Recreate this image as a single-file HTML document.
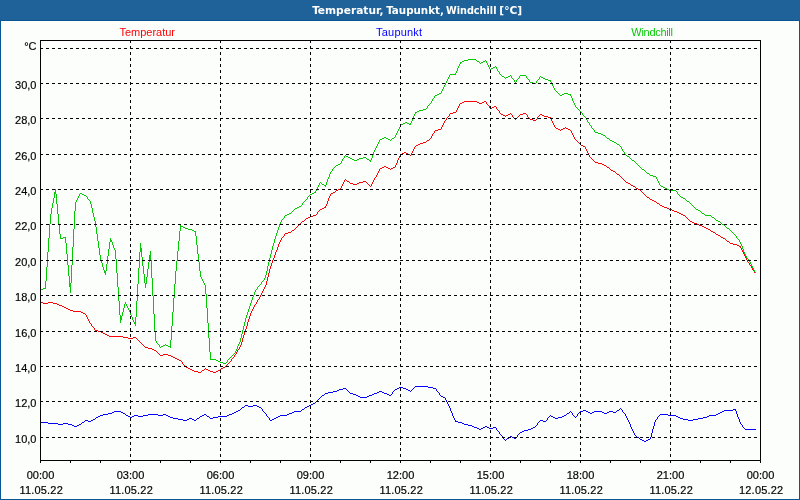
<!DOCTYPE html>
<html lang="de">
<head>
<meta charset="utf-8">
<title>Temperatur, Taupunkt, Windchill [°C]</title>
<style>
html,body{margin:0;padding:0;}
body{width:800px;height:500px;overflow:hidden;background:#FCFEFC;position:relative;font-family:"Liberation Sans", "DejaVu Sans", sans-serif;font-size:11px;color:#000;}
#hdr{position:absolute;left:0;top:0;width:800px;height:20px;background:#1E6299;}
#frame{position:absolute;left:0;top:20px;width:798px;height:478px;border:1px solid #0A5593;}
svg{position:absolute;left:0;top:0;}
svg text{font-family:"Liberation Sans", "DejaVu Sans", sans-serif;font-size:11px;}
svg text.t{font-family:"DejaVu Sans Condensed","Liberation Sans",sans-serif;font-weight:bold;}
</style>
</head>
<body>
<div id="hdr"></div>
<div id="frame"></div>
<svg width="800" height="500" viewBox="0 0 800 500">

<g shape-rendering="crispEdges" stroke="none">
<path fill="#FC0204" d="M40 302h3v1h-3zM43 303h2v1h-2zM45 303h3v1h-3zM48 302h2v1h-2zM50 302h3v1h-3zM53 303h2v1h-2zM55 303h2v1h-2zM57 304h2v1h-2zM59 305h1v1h-1zM60 305h2v1h-2zM62 306h2v1h-2zM64 307h1v1h-1zM65 307h1v1h-1zM66 308h2v1h-2zM68 309h2v1h-2zM70 310h3v1h-3zM73 311h2v1h-2zM75 311h5v1h-5zM80 311h1v1h-1zM81 312h2v1h-2zM83 313h2v1h-2zM85 314h1v1h-1zM86 315h1v2h-1zM87 317h1v2h-1zM88 319h1v2h-1zM89 321h1v2h-1zM90 323h1v1h-1zM91 324h1v2h-1zM92 326h1v1h-1zM93 327h1v1h-1zM94 328h1v2h-1zM95 330h3v1h-3zM98 331h2v1h-2zM100 331h1v1h-1zM101 332h2v1h-2zM103 333h2v1h-2zM105 334h2v1h-2zM107 335h2v1h-2zM109 336h1v1h-1zM110 336h5v1h-5zM115 336h5v1h-5zM120 336h3v1h-3zM123 337h2v1h-2zM125 337h3v1h-3zM128 338h2v1h-2zM130 338h3v1h-3zM133 337h2v1h-2zM135 337h1v1h-1zM136 338h1v1h-1zM137 339h1v1h-1zM138 340h1v1h-1zM139 341h1v1h-1zM140 342h1v1h-1zM141 343h1v1h-1zM142 344h1v1h-1zM143 345h1v1h-1zM144 346h1v1h-1zM145 347h3v1h-3zM148 348h2v1h-2zM150 348h2v1h-2zM152 349h2v1h-2zM154 350h1v1h-1zM155 350h1v1h-1zM156 351h1v1h-1zM157 352h1v1h-1zM158 353h1v1h-1zM159 354h1v1h-1zM160 355h3v1h-3zM163 354h2v1h-2zM165 354h3v1h-3zM168 355h2v1h-2zM170 355h1v1h-1zM171 356h2v1h-2zM173 357h2v1h-2zM175 358h2v1h-2zM177 359h2v1h-2zM179 360h1v1h-1zM180 360h1v1h-1zM181 361h1v1h-1zM182 362h1v2h-1zM183 364h1v1h-1zM184 365h1v1h-1zM185 366h1v1h-1zM186 367h2v1h-2zM188 368h2v1h-2zM190 369h2v1h-2zM192 370h2v1h-2zM194 371h1v1h-1zM195 371h3v1h-3zM198 372h2v1h-2zM200 372h1v1h-1zM201 371h1v1h-1zM202 370h2v1h-2zM204 369h1v1h-1zM205 368h1v1h-1zM206 369h2v1h-2zM208 370h2v1h-2zM210 371h3v1h-3zM213 372h2v1h-2zM215 372h1v1h-1zM216 371h2v1h-2zM218 370h2v1h-2zM220 369h1v1h-1zM221 368h2v1h-2zM223 367h2v1h-2zM225 366h1v1h-1zM226 365h1v1h-1zM227 364h1v1h-1zM228 363h1v1h-1zM229 362h1v1h-1zM230 361h1v1h-1zM231 359h1v2h-1zM232 358h1v1h-1zM233 357h1v1h-1zM234 355h1v2h-1zM235 354h1v1h-1zM236 352h1v2h-1zM237 350h1v2h-1zM238 349h1v1h-1zM239 347h1v2h-1zM240 345h1v2h-1zM241 342h1v3h-1zM242 338h1v4h-1zM243 335h1v3h-1zM244 332h1v3h-1zM245 331h1v1h-1zM245 329h1v2h-1zM246 326h1v3h-1zM247 322h1v4h-1zM248 319h1v3h-1zM249 316h1v3h-1zM250 315h1v1h-1zM250 313h1v2h-1zM251 311h1v2h-1zM252 309h1v2h-1zM253 307h1v2h-1zM254 305h1v2h-1zM255 304h1v1h-1zM256 302h1v2h-1zM257 300h1v2h-1zM258 299h1v1h-1zM259 297h1v2h-1zM260 295h1v2h-1zM261 293h1v2h-1zM262 291h1v2h-1zM263 289h1v2h-1zM264 287h1v2h-1zM265 285h1v2h-1zM266 281h1v4h-1zM267 277h1v4h-1zM268 273h1v4h-1zM269 269h1v4h-1zM270 268h1v1h-1zM270 266h1v2h-1zM271 263h1v3h-1zM272 260h1v3h-1zM273 258h1v2h-1zM274 255h1v3h-1zM275 254h1v1h-1zM275 252h1v2h-1zM276 250h1v2h-1zM277 247h1v3h-1zM278 244h1v3h-1zM279 242h1v2h-1zM280 241h1v1h-1zM280 240h1v1h-1zM281 238h1v2h-1zM282 237h1v1h-1zM283 236h1v1h-1zM284 234h1v2h-1zM285 233h3v1h-3zM288 232h2v1h-2zM290 232h1v1h-1zM291 231h1v1h-1zM292 230h2v1h-2zM294 229h1v1h-1zM295 228h1v1h-1zM296 227h1v1h-1zM297 226h1v1h-1zM298 225h1v1h-1zM299 224h1v1h-1zM300 223h1v1h-1zM301 222h1v1h-1zM302 221h2v1h-2zM304 220h1v1h-1zM305 219h1v1h-1zM306 218h2v1h-2zM308 217h2v1h-2zM310 216h3v1h-3zM313 215h2v1h-2zM315 215h1v1h-1zM316 214h1v1h-1zM317 212h1v2h-1zM318 211h1v1h-1zM319 210h1v1h-1zM320 209h2v1h-2zM322 208h2v1h-2zM324 207h1v1h-1zM325 206h1v2h-1zM326 204h1v2h-1zM327 201h1v3h-1zM328 198h1v3h-1zM329 196h1v2h-1zM330 195h1v1h-1zM330 194h1v1h-1zM331 193h2v1h-2zM333 192h2v1h-2zM335 191h1v1h-1zM336 190h2v1h-2zM338 189h2v1h-2zM340 188h1v1h-1zM341 186h1v2h-1zM342 184h1v2h-1zM343 182h1v2h-1zM344 180h1v2h-1zM345 179h1v1h-1zM346 180h1v1h-1zM347 181h2v1h-2zM349 182h1v1h-1zM350 183h3v1h-3zM353 184h2v1h-2zM355 184h2v1h-2zM357 183h2v1h-2zM359 182h1v1h-1zM360 182h3v1h-3zM363 181h2v1h-2zM365 181h1v1h-1zM366 182h1v1h-1zM367 183h1v1h-1zM368 184h1v1h-1zM369 185h1v1h-1zM370 186h1v1h-1zM371 184h1v2h-1zM372 182h1v2h-1zM373 180h1v2h-1zM374 178h1v2h-1zM375 177h1v1h-1zM376 175h1v2h-1zM377 173h1v2h-1zM378 171h1v2h-1zM379 169h1v2h-1zM380 168h2v1h-2zM382 167h2v1h-2zM384 166h1v1h-1zM385 166h1v1h-1zM386 167h2v1h-2zM388 168h2v1h-2zM390 169h1v1h-1zM391 168h2v1h-2zM393 167h2v1h-2zM395 165h1v2h-1zM396 163h1v2h-1zM397 160h1v3h-1zM398 158h1v2h-1zM399 156h1v2h-1zM400 155h1v1h-1zM400 154h2v1h-2zM402 153h2v1h-2zM404 152h1v1h-1zM405 152h1v1h-1zM406 153h2v1h-2zM408 154h2v1h-2zM410 155h1v1h-1zM411 153h1v2h-1zM412 151h1v2h-1zM413 149h1v2h-1zM414 147h1v2h-1zM415 146h1v1h-1zM416 145h2v1h-2zM418 144h2v1h-2zM420 143h3v1h-3zM423 142h2v1h-2zM425 142h1v1h-1zM426 141h1v1h-1zM427 140h2v1h-2zM429 139h1v1h-1zM430 138h1v1h-1zM431 136h1v2h-1zM432 134h1v2h-1zM433 133h1v1h-1zM434 131h1v2h-1zM435 130h3v1h-3zM438 129h2v1h-2zM440 129h1v1h-1zM441 127h1v2h-1zM442 125h1v2h-1zM443 123h1v2h-1zM444 121h1v2h-1zM445 120h1v1h-1zM446 118h1v2h-1zM447 117h1v1h-1zM448 116h1v1h-1zM449 114h1v2h-1zM450 113h3v1h-3zM453 112h2v1h-2zM455 112h1v1h-1zM456 110h1v2h-1zM457 108h1v2h-1zM458 106h1v2h-1zM459 104h1v2h-1zM460 103h2v1h-2zM462 102h2v1h-2zM464 101h1v1h-1zM465 101h5v1h-5zM470 101h5v1h-5zM475 101h2v1h-2zM477 102h2v1h-2zM479 103h1v1h-1zM480 103h2v1h-2zM482 102h2v1h-2zM484 101h1v1h-1zM485 101h1v1h-1zM486 102h1v2h-1zM487 104h1v1h-1zM488 105h1v1h-1zM489 106h1v2h-1zM490 108h2v1h-2zM492 107h2v1h-2zM494 106h1v1h-1zM495 106h1v1h-1zM496 107h1v2h-1zM497 109h1v1h-1zM498 110h1v1h-1zM499 111h1v2h-1zM500 113h1v1h-1zM501 114h2v1h-2zM503 115h2v1h-2zM505 116h1v1h-1zM506 115h2v1h-2zM508 114h2v1h-2zM510 113h1v1h-1zM511 114h1v1h-1zM512 115h1v2h-1zM513 117h1v1h-1zM514 118h1v1h-1zM515 119h1v1h-1zM516 118h1v1h-1zM517 117h1v1h-1zM518 116h1v1h-1zM519 115h1v1h-1zM520 114h3v1h-3zM523 113h2v1h-2zM525 113h1v1h-1zM526 114h1v1h-1zM527 115h1v2h-1zM528 117h1v1h-1zM529 118h1v1h-1zM530 119h3v1h-3zM533 120h2v1h-2zM535 120h1v1h-1zM536 119h1v1h-1zM537 117h1v2h-1zM538 116h1v1h-1zM539 115h1v1h-1zM540 114h2v1h-2zM542 115h2v1h-2zM544 116h1v1h-1zM545 116h3v1h-3zM548 117h2v1h-2zM550 117h1v2h-1zM551 119h1v2h-1zM552 121h1v2h-1zM553 123h1v2h-1zM554 125h1v2h-1zM555 127h1v1h-1zM556 128h2v1h-2zM558 129h2v1h-2zM560 130h1v1h-1zM561 129h2v1h-2zM563 128h2v1h-2zM565 127h1v1h-1zM566 128h2v1h-2zM568 129h2v1h-2zM570 130h1v1h-1zM571 131h1v2h-1zM572 133h1v2h-1zM573 135h1v2h-1zM574 137h1v2h-1zM575 139h1v1h-1zM576 140h1v1h-1zM577 141h1v1h-1zM578 142h1v1h-1zM579 143h1v1h-1zM580 144h1v1h-1zM581 145h2v1h-2zM583 146h2v1h-2zM585 147h1v2h-1zM586 149h1v2h-1zM587 151h1v2h-1zM588 153h1v2h-1zM589 155h1v2h-1zM590 157h1v1h-1zM591 158h1v1h-1zM592 159h1v1h-1zM593 160h1v1h-1zM594 161h1v1h-1zM595 162h3v1h-3zM598 163h2v1h-2zM600 163h2v1h-2zM602 164h2v1h-2zM604 165h1v1h-1zM605 165h1v1h-1zM606 166h1v1h-1zM607 167h2v1h-2zM609 168h1v1h-1zM610 169h1v1h-1zM611 170h2v1h-2zM613 171h2v1h-2zM615 172h1v1h-1zM616 173h1v1h-1zM617 174h2v1h-2zM619 175h1v1h-1zM620 176h1v1h-1zM621 177h1v1h-1zM622 178h1v1h-1zM623 179h1v1h-1zM624 180h1v1h-1zM625 181h1v1h-1zM626 182h2v1h-2zM628 183h2v1h-2zM630 184h1v1h-1zM631 185h2v1h-2zM633 186h2v1h-2zM635 187h1v1h-1zM636 188h2v1h-2zM638 189h2v1h-2zM640 190h1v1h-1zM641 191h1v1h-1zM642 192h1v1h-1zM643 193h1v1h-1zM644 194h1v1h-1zM645 195h1v1h-1zM646 196h1v1h-1zM647 197h2v1h-2zM649 198h1v1h-1zM650 199h2v1h-2zM652 200h2v1h-2zM654 201h1v1h-1zM655 201h1v1h-1zM656 202h1v1h-1zM657 203h2v1h-2zM659 204h1v1h-1zM660 205h2v1h-2zM662 206h2v1h-2zM664 207h1v1h-1zM665 207h2v1h-2zM667 208h2v1h-2zM669 209h1v1h-1zM670 209h2v1h-2zM672 210h2v1h-2zM674 211h1v1h-1zM675 211h2v1h-2zM677 212h2v1h-2zM679 213h1v1h-1zM680 213h1v1h-1zM681 214h2v1h-2zM683 215h2v1h-2zM685 216h1v1h-1zM686 217h1v1h-1zM687 218h1v1h-1zM688 219h1v1h-1zM689 220h1v1h-1zM690 221h2v1h-2zM692 222h2v1h-2zM694 223h1v1h-1zM695 223h2v1h-2zM697 224h2v1h-2zM699 225h1v1h-1zM700 225h2v1h-2zM702 226h2v1h-2zM704 227h1v1h-1zM705 227h1v1h-1zM706 228h2v1h-2zM708 229h2v1h-2zM710 230h1v1h-1zM711 231h2v1h-2zM713 232h2v1h-2zM715 233h1v1h-1zM716 234h2v1h-2zM718 235h2v1h-2zM720 236h1v1h-1zM721 237h2v1h-2zM723 238h2v1h-2zM725 239h1v1h-1zM726 240h1v1h-1zM727 241h2v1h-2zM729 242h1v1h-1zM730 243h3v1h-3zM733 244h2v1h-2zM735 244h2v1h-2zM737 245h2v1h-2zM739 246h1v1h-1zM740 246h1v2h-1zM741 248h1v2h-1zM742 250h1v2h-1zM743 252h1v2h-1zM744 254h1v2h-1zM745 256h1v1h-1zM745 257h1v1h-1zM746 258h1v2h-1zM747 260h1v2h-1zM748 262h1v1h-1zM749 263h1v2h-1zM750 265h1v1h-1zM751 266h1v2h-1zM752 268h1v2h-1zM753 270h1v1h-1zM754 271h1v2h-1z"/>
<path fill="#0402FC" d="M40 422h5v1h-5zM45 422h3v1h-3zM48 423h2v1h-2zM50 423h5v1h-5zM55 423h3v1h-3zM58 424h2v1h-2zM60 424h3v1h-3zM63 423h2v1h-2zM65 423h3v1h-3zM68 424h2v1h-2zM70 424h2v1h-2zM72 425h2v1h-2zM74 426h1v1h-1zM75 426h2v1h-2zM77 425h2v1h-2zM79 424h1v1h-1zM80 424h1v1h-1zM81 423h1v1h-1zM82 422h2v1h-2zM84 421h1v1h-1zM85 420h3v1h-3zM88 421h2v1h-2zM90 421h1v1h-1zM91 420h2v1h-2zM93 419h2v1h-2zM95 418h1v1h-1zM96 417h2v1h-2zM98 416h2v1h-2zM100 415h3v1h-3zM103 414h2v1h-2zM105 414h3v1h-3zM108 413h2v1h-2zM110 413h2v1h-2zM112 412h2v1h-2zM114 411h1v1h-1zM115 411h5v1h-5zM120 411h1v1h-1zM121 412h2v1h-2zM123 413h2v1h-2zM125 414h1v1h-1zM126 415h2v1h-2zM128 416h2v1h-2zM130 417h2v1h-2zM132 416h2v1h-2zM134 415h1v1h-1zM135 415h3v1h-3zM138 416h2v1h-2zM140 416h3v1h-3zM143 415h2v1h-2zM145 415h3v1h-3zM148 414h2v1h-2zM150 414h5v1h-5zM155 414h3v1h-3zM158 415h2v1h-2zM160 415h3v1h-3zM163 414h2v1h-2zM165 414h1v1h-1zM166 415h2v1h-2zM168 416h2v1h-2zM170 417h3v1h-3zM173 418h2v1h-2zM175 418h3v1h-3zM178 419h2v1h-2zM180 419h3v1h-3zM183 420h2v1h-2zM185 420h2v1h-2zM187 419h2v1h-2zM189 418h1v1h-1zM190 418h2v1h-2zM192 419h2v1h-2zM194 420h1v1h-1zM195 420h1v1h-1zM196 419h1v1h-1zM197 418h2v1h-2zM199 417h1v1h-1zM200 416h2v1h-2zM202 415h2v1h-2zM204 414h1v1h-1zM205 414h1v1h-1zM206 415h1v1h-1zM207 416h2v1h-2zM209 417h1v1h-1zM210 418h3v1h-3zM213 417h2v1h-2zM215 417h3v1h-3zM218 416h2v1h-2zM220 416h5v1h-5zM225 416h2v1h-2zM227 415h2v1h-2zM229 414h1v1h-1zM230 414h2v1h-2zM232 413h2v1h-2zM234 412h1v1h-1zM235 412h1v1h-1zM236 411h2v1h-2zM238 410h2v1h-2zM240 409h1v1h-1zM241 408h1v1h-1zM242 407h2v1h-2zM244 406h1v1h-1zM245 405h3v1h-3zM248 406h2v1h-2zM250 406h3v1h-3zM253 405h2v1h-2zM255 405h2v1h-2zM257 406h2v1h-2zM259 407h1v1h-1zM260 407h1v1h-1zM261 408h1v1h-1zM262 409h1v2h-1zM263 411h1v1h-1zM264 412h1v1h-1zM265 413h1v1h-1zM266 414h1v2h-1zM267 416h1v1h-1zM268 417h1v1h-1zM269 418h1v2h-1zM270 420h2v1h-2zM272 419h2v1h-2zM274 418h1v1h-1zM275 418h1v1h-1zM276 417h2v1h-2zM278 416h2v1h-2zM280 415h5v1h-5zM285 415h2v1h-2zM287 414h2v1h-2zM289 413h1v1h-1zM290 413h2v1h-2zM292 412h2v1h-2zM294 411h1v1h-1zM295 411h5v1h-5zM300 411h1v1h-1zM301 410h1v1h-1zM302 409h2v1h-2zM304 408h1v1h-1zM305 407h2v1h-2zM307 406h2v1h-2zM309 405h1v1h-1zM310 405h1v1h-1zM311 404h2v1h-2zM313 403h2v1h-2zM315 402h1v1h-1zM316 401h1v1h-1zM317 400h1v1h-1zM318 399h1v1h-1zM319 398h1v1h-1zM320 397h1v1h-1zM321 396h1v1h-1zM322 395h2v1h-2zM324 394h1v1h-1zM325 393h3v1h-3zM328 392h2v1h-2zM330 392h3v1h-3zM333 391h2v1h-2zM335 391h2v1h-2zM337 390h2v1h-2zM339 389h1v1h-1zM340 389h3v1h-3zM343 388h2v1h-2zM345 388h1v1h-1zM346 389h1v1h-1zM347 390h1v1h-1zM348 391h1v1h-1zM349 392h1v1h-1zM350 393h3v1h-3zM353 394h2v1h-2zM355 394h1v1h-1zM356 395h2v1h-2zM358 396h2v1h-2zM360 397h5v1h-5zM365 397h2v1h-2zM367 396h2v1h-2zM369 395h1v1h-1zM370 395h2v1h-2zM372 394h2v1h-2zM374 393h1v1h-1zM375 393h2v1h-2zM377 392h2v1h-2zM379 391h1v1h-1zM380 391h2v1h-2zM382 392h2v1h-2zM384 393h1v1h-1zM385 393h2v1h-2zM387 394h2v1h-2zM389 395h1v1h-1zM390 395h1v1h-1zM391 394h1v1h-1zM392 392h1v2h-1zM393 391h1v1h-1zM394 390h1v1h-1zM395 389h2v1h-2zM397 388h2v1h-2zM399 387h1v1h-1zM400 387h3v1h-3zM403 388h2v1h-2zM405 388h1v1h-1zM406 389h2v1h-2zM408 390h2v1h-2zM410 391h1v1h-1zM411 390h1v1h-1zM412 389h1v1h-1zM413 388h1v1h-1zM414 387h1v1h-1zM415 386h5v1h-5zM420 386h5v1h-5zM425 386h3v1h-3zM428 387h2v1h-2zM430 387h3v1h-3zM433 388h2v1h-2zM435 388h1v1h-1zM436 389h1v2h-1zM437 391h1v1h-1zM438 392h1v1h-1zM439 393h1v2h-1zM440 395h1v1h-1zM441 396h2v1h-2zM443 397h2v1h-2zM445 398h1v2h-1zM446 400h1v2h-1zM447 402h1v2h-1zM448 404h1v2h-1zM449 406h1v2h-1zM450 408h1v1h-1zM450 409h1v2h-1zM451 411h1v2h-1zM452 413h1v3h-1zM453 416h1v2h-1zM454 418h1v2h-1zM455 420h1v1h-1zM455 421h3v1h-3zM458 422h2v1h-2zM460 422h2v1h-2zM462 423h2v1h-2zM464 424h1v1h-1zM465 424h3v1h-3zM468 425h2v1h-2zM470 425h2v1h-2zM472 426h2v1h-2zM474 427h1v1h-1zM475 427h2v1h-2zM477 428h2v1h-2zM479 429h1v1h-1zM480 429h1v1h-1zM481 428h2v1h-2zM483 427h2v1h-2zM485 426h2v1h-2zM487 427h2v1h-2zM489 428h1v1h-1zM490 428h3v1h-3zM493 427h2v1h-2zM495 427h1v1h-1zM496 428h1v2h-1zM497 430h1v1h-1zM498 431h1v1h-1zM499 432h1v2h-1zM500 434h1v1h-1zM501 435h1v1h-1zM502 436h1v2h-1zM503 438h1v1h-1zM504 439h1v1h-1zM505 440h1v1h-1zM506 439h1v1h-1zM507 438h2v1h-2zM509 437h1v1h-1zM510 436h2v1h-2zM512 437h2v1h-2zM514 438h1v1h-1zM515 438h1v1h-1zM516 437h1v1h-1zM517 435h1v2h-1zM518 434h1v1h-1zM519 433h1v1h-1zM520 432h2v1h-2zM522 431h2v1h-2zM524 430h1v1h-1zM525 430h3v1h-3zM528 429h2v1h-2zM530 429h1v1h-1zM531 428h2v1h-2zM533 427h2v1h-2zM535 426h1v1h-1zM536 425h1v1h-1zM537 423h1v2h-1zM538 422h1v1h-1zM539 421h1v1h-1zM540 420h3v1h-3zM543 421h2v1h-2zM545 421h1v1h-1zM546 420h1v1h-1zM547 418h1v2h-1zM548 417h1v1h-1zM549 416h1v1h-1zM550 415h1v1h-1zM551 416h2v1h-2zM553 417h2v1h-2zM555 418h3v1h-3zM558 417h2v1h-2zM560 417h2v1h-2zM562 416h2v1h-2zM564 415h1v1h-1zM565 415h1v1h-1zM566 414h1v1h-1zM567 413h2v1h-2zM569 412h1v1h-1zM570 411h1v1h-1zM571 412h1v1h-1zM572 413h1v2h-1zM573 415h1v1h-1zM574 416h1v1h-1zM575 417h1v1h-1zM576 416h1v1h-1zM577 414h1v2h-1zM578 413h1v1h-1zM579 412h1v1h-1zM580 411h3v1h-3zM583 410h2v1h-2zM585 410h1v1h-1zM586 411h2v1h-2zM588 412h2v1h-2zM590 413h2v1h-2zM592 412h2v1h-2zM594 411h1v1h-1zM595 411h5v1h-5zM600 411h2v1h-2zM602 412h2v1h-2zM604 413h1v1h-1zM605 413h2v1h-2zM607 412h2v1h-2zM609 411h1v1h-1zM610 411h3v1h-3zM613 412h2v1h-2zM615 412h1v1h-1zM616 411h1v1h-1zM617 410h2v1h-2zM619 409h1v1h-1zM620 408h1v1h-1zM621 409h1v1h-1zM622 410h1v2h-1zM623 412h1v1h-1zM624 413h1v1h-1zM625 414h1v2h-1zM626 416h1v2h-1zM627 418h1v2h-1zM628 420h1v2h-1zM629 422h1v2h-1zM630 424h1v1h-1zM630 425h1v2h-1zM631 427h1v2h-1zM632 429h1v2h-1zM633 431h1v2h-1zM634 433h1v2h-1zM635 435h1v1h-1zM636 436h1v1h-1zM637 437h2v1h-2zM639 438h1v1h-1zM640 439h2v1h-2zM642 440h2v1h-2zM644 441h1v1h-1zM645 441h1v1h-1zM646 440h2v1h-2zM648 439h2v1h-2zM650 437h1v2h-1zM651 433h1v4h-1zM652 429h1v4h-1zM653 426h1v3h-1zM654 422h1v4h-1zM655 421h1v1h-1zM655 420h1v1h-1zM656 419h1v1h-1zM657 417h1v2h-1zM658 416h1v1h-1zM659 415h1v1h-1zM660 414h5v1h-5zM665 414h3v1h-3zM668 415h2v1h-2zM670 415h5v1h-5zM675 415h1v1h-1zM676 416h2v1h-2zM678 417h2v1h-2zM680 418h3v1h-3zM683 419h2v1h-2zM685 419h3v1h-3zM688 420h2v1h-2zM690 420h3v1h-3zM693 419h2v1h-2zM695 419h3v1h-3zM698 418h2v1h-2zM700 418h3v1h-3zM703 417h2v1h-2zM705 417h2v1h-2zM707 416h2v1h-2zM709 415h1v1h-1zM710 415h5v1h-5zM715 415h1v1h-1zM716 414h2v1h-2zM718 413h2v1h-2zM720 412h2v1h-2zM722 411h2v1h-2zM724 410h1v1h-1zM725 410h5v1h-5zM730 410h3v1h-3zM733 409h2v1h-2zM735 409h1v2h-1zM736 411h1v3h-1zM737 414h1v3h-1zM738 417h1v2h-1zM739 419h1v3h-1zM740 422h1v1h-1zM740 423h1v1h-1zM741 424h1v1h-1zM742 425h1v2h-1zM743 427h1v1h-1zM744 428h1v1h-1zM745 429h5v1h-5zM750 429h5v1h-5zM755 429h1v1h-1z"/>
<path fill="#04CA04" d="M40 289h3v1h-3zM43 288h2v1h-2zM45 281h1v8h-1zM46 267h1v14h-1zM47 252h1v15h-1zM48 238h1v14h-1zM49 224h1v14h-1zM50 217h1v7h-1zM50 214h1v3h-1zM51 208h1v6h-1zM52 203h1v5h-1zM53 198h1v5h-1zM54 192h1v6h-1zM55 190h1v2h-1zM55 189h1v5h-1zM56 194h1v10h-1zM57 204h1v10h-1zM58 214h1v10h-1zM59 224h1v10h-1zM60 234h1v4h-1zM60 238h3v1h-3zM63 237h2v1h-2zM65 237h1v6h-1zM66 243h1v11h-1zM67 254h1v11h-1zM68 265h1v11h-1zM69 276h1v11h-1zM70 287h1v5h-1zM70 283h1v10h-1zM71 265h1v18h-1zM72 247h1v18h-1zM73 229h1v18h-1zM74 211h1v18h-1zM75 203h1v8h-1zM75 202h1v1h-1zM76 200h1v2h-1zM77 198h1v2h-1zM78 196h1v2h-1zM79 194h1v2h-1zM80 193h2v1h-2zM82 194h2v1h-2zM84 195h1v1h-1zM85 195h1v1h-1zM86 196h1v1h-1zM87 197h1v2h-1zM88 199h1v1h-1zM89 200h1v1h-1zM90 201h1v3h-1zM91 204h1v4h-1zM92 208h1v5h-1zM93 213h1v4h-1zM94 217h1v4h-1zM95 221h1v2h-1zM95 223h1v4h-1zM96 227h1v7h-1zM97 234h1v7h-1zM98 241h1v7h-1zM99 248h1v7h-1zM100 255h1v3h-1zM100 258h1v2h-1zM101 260h1v3h-1zM102 263h1v4h-1zM103 267h1v3h-1zM104 270h1v3h-1zM105 273h1v1h-1zM105 271h1v4h-1zM106 264h1v7h-1zM107 256h1v8h-1zM108 249h1v7h-1zM109 242h1v7h-1zM110 239h1v3h-1zM110 238h1v2h-1zM111 240h1v2h-1zM112 242h1v3h-1zM113 245h1v3h-1zM114 248h1v2h-1zM115 250h1v1h-1zM115 251h1v8h-1zM116 259h1v14h-1zM117 273h1v14h-1zM118 287h1v14h-1zM119 301h1v14h-1zM120 315h1v7h-1zM120 320h1v3h-1zM121 316h1v4h-1zM122 312h1v4h-1zM123 308h1v4h-1zM124 304h1v4h-1zM125 303h1v1h-1zM125 302h1v2h-1zM126 304h1v2h-1zM127 306h1v2h-1zM128 308h1v2h-1zM129 310h1v2h-1zM130 312h1v1h-1zM130 313h1v2h-1zM131 315h1v2h-1zM132 317h1v3h-1zM133 320h1v2h-1zM134 322h1v2h-1zM135 324h1v1h-1zM135 317h1v9h-1zM136 301h1v16h-1zM137 284h1v17h-1zM138 268h1v16h-1zM139 252h1v16h-1zM140 244h1v8h-1zM140 243h1v5h-1zM141 248h1v9h-1zM142 257h1v9h-1zM143 266h1v8h-1zM144 274h1v9h-1zM145 283h1v4h-1zM145 284h1v4h-1zM146 277h1v7h-1zM147 269h1v8h-1zM148 262h1v7h-1zM149 255h1v7h-1zM150 252h1v3h-1zM150 251h1v9h-1zM151 260h1v18h-1zM152 278h1v18h-1zM153 296h1v18h-1zM154 314h1v18h-1zM155 332h1v8h-1zM155 340h1v1h-1zM156 341h1v2h-1zM157 343h1v1h-1zM158 344h1v1h-1zM159 345h1v2h-1zM160 347h1v1h-1zM161 346h2v1h-2zM163 345h2v1h-2zM165 344h1v1h-1zM166 345h2v1h-2zM168 346h2v1h-2zM170 340h1v8h-1zM171 326h1v14h-1zM172 312h1v14h-1zM173 298h1v14h-1zM174 284h1v14h-1zM175 277h1v7h-1zM175 271h1v6h-1zM176 261h1v10h-1zM177 251h1v10h-1zM178 241h1v10h-1zM179 231h1v10h-1zM180 226h1v5h-1zM180 225h1v1h-1zM181 226h2v1h-2zM183 227h2v1h-2zM185 228h3v1h-3zM188 229h2v1h-2zM190 229h2v1h-2zM192 230h2v1h-2zM194 231h1v1h-1zM195 231h1v5h-1zM196 236h1v9h-1zM197 245h1v9h-1zM198 254h1v8h-1zM199 262h1v9h-1zM200 271h1v4h-1zM200 275h1v2h-1zM201 277h1v2h-1zM202 279h1v2h-1zM203 281h1v2h-1zM204 283h1v2h-1zM205 285h1v1h-1zM205 286h1v8h-1zM206 294h1v14h-1zM207 308h1v15h-1zM208 323h1v15h-1zM209 338h1v14h-1zM210 352h1v7h-1zM210 359h5v1h-5zM215 359h1v1h-1zM216 360h2v1h-2zM218 361h2v1h-2zM220 362h3v1h-3zM223 363h2v1h-2zM225 363h1v1h-1zM226 362h1v1h-1zM227 360h1v2h-1zM228 359h1v1h-1zM229 358h1v1h-1zM230 357h1v1h-1zM231 356h1v1h-1zM232 355h1v1h-1zM233 354h1v1h-1zM234 353h1v1h-1zM235 351h1v2h-1zM236 349h1v2h-1zM237 346h1v3h-1zM238 344h1v2h-1zM239 342h1v2h-1zM240 341h1v1h-1zM240 338h1v3h-1zM241 334h1v4h-1zM242 330h1v4h-1zM243 326h1v4h-1zM244 322h1v4h-1zM245 320h1v2h-1zM245 318h1v2h-1zM246 315h1v3h-1zM247 312h1v3h-1zM248 309h1v3h-1zM249 306h1v3h-1zM250 305h1v1h-1zM250 303h1v2h-1zM251 300h1v3h-1zM252 297h1v3h-1zM253 295h1v2h-1zM254 292h1v3h-1zM255 291h1v1h-1zM255 290h1v1h-1zM256 289h1v1h-1zM257 287h1v2h-1zM258 286h1v1h-1zM259 285h1v1h-1zM260 284h1v1h-1zM261 282h1v2h-1zM262 281h1v1h-1zM263 280h1v1h-1zM264 278h1v2h-1zM265 275h1v3h-1zM266 271h1v4h-1zM267 266h1v5h-1zM268 262h1v4h-1zM269 258h1v4h-1zM270 256h1v2h-1zM270 254h1v2h-1zM271 250h1v4h-1zM272 246h1v4h-1zM273 243h1v3h-1zM274 239h1v4h-1zM275 238h1v1h-1zM275 236h1v2h-1zM276 233h1v3h-1zM277 230h1v3h-1zM278 227h1v3h-1zM279 224h1v3h-1zM280 223h1v1h-1zM280 222h1v1h-1zM281 220h1v2h-1zM282 219h1v1h-1zM283 218h1v1h-1zM284 216h1v2h-1zM285 215h2v1h-2zM287 214h2v1h-2zM289 213h1v1h-1zM290 213h1v1h-1zM291 212h1v1h-1zM292 211h1v1h-1zM293 210h1v1h-1zM294 209h1v1h-1zM295 208h2v1h-2zM297 207h2v1h-2zM299 206h1v1h-1zM300 206h1v1h-1zM301 205h1v1h-1zM302 203h1v2h-1zM303 202h1v1h-1zM304 201h1v1h-1zM305 200h1v1h-1zM306 199h1v1h-1zM307 197h1v2h-1zM308 196h1v1h-1zM309 195h1v1h-1zM310 194h2v1h-2zM312 193h2v1h-2zM314 192h1v1h-1zM315 191h1v2h-1zM316 189h1v2h-1zM317 187h1v2h-1zM318 185h1v2h-1zM319 183h1v2h-1zM320 182h1v1h-1zM321 183h1v1h-1zM322 184h2v1h-2zM324 185h1v1h-1zM325 185h1v2h-1zM326 182h1v3h-1zM327 179h1v3h-1zM328 177h1v2h-1zM329 174h1v3h-1zM330 173h1v1h-1zM330 172h1v1h-1zM331 171h1v1h-1zM332 169h1v2h-1zM333 168h1v1h-1zM334 167h1v1h-1zM335 166h1v1h-1zM336 165h2v1h-2zM338 164h2v1h-2zM340 163h1v1h-1zM341 161h1v2h-1zM342 159h1v2h-1zM343 158h1v1h-1zM344 156h1v2h-1zM345 155h1v1h-1zM346 156h2v1h-2zM348 157h2v1h-2zM350 158h2v1h-2zM352 159h2v1h-2zM354 160h1v1h-1zM355 160h2v1h-2zM357 159h2v1h-2zM359 158h1v1h-1zM360 158h3v1h-3zM363 157h2v1h-2zM365 157h1v1h-1zM366 158h1v1h-1zM367 159h2v1h-2zM369 160h1v1h-1zM370 160h1v2h-1zM371 158h1v2h-1zM372 155h1v3h-1zM373 152h1v3h-1zM374 150h1v2h-1zM375 149h1v1h-1zM375 148h1v1h-1zM376 146h1v2h-1zM377 144h1v2h-1zM378 142h1v2h-1zM379 140h1v2h-1zM380 139h2v1h-2zM382 138h2v1h-2zM384 137h1v1h-1zM385 137h1v1h-1zM386 138h2v1h-2zM388 139h2v1h-2zM390 140h1v1h-1zM391 139h1v1h-1zM392 138h2v1h-2zM394 137h1v1h-1zM395 135h1v2h-1zM396 133h1v2h-1zM397 131h1v2h-1zM398 129h1v2h-1zM399 127h1v2h-1zM400 126h1v1h-1zM400 125h1v1h-1zM401 124h2v1h-2zM403 123h2v1h-2zM405 122h2v1h-2zM407 123h2v1h-2zM409 124h1v1h-1zM410 123h1v2h-1zM411 121h1v2h-1zM412 118h1v3h-1zM413 116h1v2h-1zM414 114h1v2h-1zM415 113h1v1h-1zM415 112h2v1h-2zM417 111h2v1h-2zM419 110h1v1h-1zM420 110h3v1h-3zM423 109h2v1h-2zM425 109h1v1h-1zM426 108h1v1h-1zM427 106h1v2h-1zM428 105h1v1h-1zM429 104h1v1h-1zM430 103h1v1h-1zM431 101h1v2h-1zM432 99h1v2h-1zM433 98h1v1h-1zM434 96h1v2h-1zM435 95h2v1h-2zM437 94h2v1h-2zM439 93h1v1h-1zM440 93h1v1h-1zM441 91h1v2h-1zM442 89h1v2h-1zM443 87h1v2h-1zM444 85h1v2h-1zM445 83h1v2h-1zM446 81h1v2h-1zM447 79h1v2h-1zM448 77h1v2h-1zM449 75h1v2h-1zM450 74h5v1h-5zM455 73h1v2h-1zM456 71h1v2h-1zM457 68h1v3h-1zM458 66h1v2h-1zM459 64h1v2h-1zM460 63h1v1h-1zM460 62h2v1h-2zM462 61h2v1h-2zM464 60h1v1h-1zM465 60h3v1h-3zM468 59h2v1h-2zM470 59h5v1h-5zM475 59h1v1h-1zM476 60h1v1h-1zM477 61h2v1h-2zM479 62h1v1h-1zM480 63h1v1h-1zM481 62h2v1h-2zM483 61h2v1h-2zM485 60h1v1h-1zM486 61h1v2h-1zM487 63h1v2h-1zM488 65h1v2h-1zM489 67h1v2h-1zM490 69h1v1h-1zM491 68h2v1h-2zM493 67h2v1h-2zM495 66h1v1h-1zM496 67h1v2h-1zM497 69h1v2h-1zM498 71h1v1h-1zM499 72h1v2h-1zM500 74h1v1h-1zM501 75h1v1h-1zM502 76h2v1h-2zM504 77h1v1h-1zM505 78h1v1h-1zM506 77h2v1h-2zM508 76h2v1h-2zM510 75h1v1h-1zM511 76h1v2h-1zM512 78h1v1h-1zM513 79h1v1h-1zM514 80h1v2h-1zM515 82h1v1h-1zM516 80h1v2h-1zM517 79h1v1h-1zM518 78h1v1h-1zM519 76h1v2h-1zM520 75h5v1h-5zM525 75h1v1h-1zM526 76h1v2h-1zM527 78h1v1h-1zM528 79h1v1h-1zM529 80h1v2h-1zM530 82h3v1h-3zM533 83h2v1h-2zM535 83h1v1h-1zM536 81h1v2h-1zM537 80h1v1h-1zM538 79h1v1h-1zM539 77h1v2h-1zM540 76h1v1h-1zM541 77h2v1h-2zM543 78h2v1h-2zM545 79h3v1h-3zM548 80h2v1h-2zM550 80h1v2h-1zM551 82h1v2h-1zM552 84h1v2h-1zM553 86h1v2h-1zM554 88h1v2h-1zM555 90h1v1h-1zM556 91h1v1h-1zM557 92h1v1h-1zM558 93h1v1h-1zM559 94h1v1h-1zM560 95h2v1h-2zM562 94h2v1h-2zM564 93h1v1h-1zM565 93h3v1h-3zM568 94h2v1h-2zM570 94h1v2h-1zM571 96h1v2h-1zM572 98h1v3h-1zM573 101h1v2h-1zM574 103h1v2h-1zM575 105h1v1h-1zM575 106h1v1h-1zM576 107h1v1h-1zM577 108h1v1h-1zM578 109h1v1h-1zM579 110h1v1h-1zM580 111h1v1h-1zM581 112h1v1h-1zM582 113h1v2h-1zM583 115h1v1h-1zM584 116h1v1h-1zM585 117h1v1h-1zM586 118h1v2h-1zM587 120h1v2h-1zM588 122h1v1h-1zM589 123h1v2h-1zM590 125h1v1h-1zM591 126h1v2h-1zM592 128h1v1h-1zM593 129h1v1h-1zM594 130h1v2h-1zM595 132h3v1h-3zM598 133h2v1h-2zM600 133h1v1h-1zM601 134h2v1h-2zM603 135h2v1h-2zM605 136h1v1h-1zM606 137h1v1h-1zM607 138h2v1h-2zM609 139h1v1h-1zM610 140h2v1h-2zM612 141h2v1h-2zM614 142h1v1h-1zM615 142h1v1h-1zM616 143h1v1h-1zM617 144h2v1h-2zM619 145h1v1h-1zM620 146h1v1h-1zM621 147h1v2h-1zM622 149h1v2h-1zM623 151h1v1h-1zM624 152h1v2h-1zM625 154h1v1h-1zM626 155h1v1h-1zM627 156h2v1h-2zM629 157h1v1h-1zM630 158h1v1h-1zM631 159h1v1h-1zM632 160h2v1h-2zM634 161h1v1h-1zM635 162h1v1h-1zM636 163h1v1h-1zM637 164h1v1h-1zM638 165h1v1h-1zM639 166h1v1h-1zM640 167h1v1h-1zM641 168h1v1h-1zM642 169h2v1h-2zM644 170h1v1h-1zM645 171h1v1h-1zM646 172h1v1h-1zM647 173h2v1h-2zM649 174h1v1h-1zM650 175h3v1h-3zM653 176h2v1h-2zM655 176h1v1h-1zM656 177h1v2h-1zM657 179h1v2h-1zM658 181h1v2h-1zM659 183h1v2h-1zM660 185h1v1h-1zM661 186h2v1h-2zM663 187h2v1h-2zM665 188h2v1h-2zM667 189h2v1h-2zM669 190h1v1h-1zM670 190h5v1h-5zM675 190h1v1h-1zM676 191h1v1h-1zM677 192h1v2h-1zM678 194h1v1h-1zM679 195h1v1h-1zM680 196h1v1h-1zM681 197h2v1h-2zM683 198h2v1h-2zM685 199h1v1h-1zM686 200h1v1h-1zM687 201h2v1h-2zM689 202h1v1h-1zM690 203h1v1h-1zM691 204h1v1h-1zM692 205h1v1h-1zM693 206h1v1h-1zM694 207h1v1h-1zM695 208h1v1h-1zM696 209h2v1h-2zM698 210h2v1h-2zM700 211h1v1h-1zM701 212h1v1h-1zM702 213h2v1h-2zM704 214h1v1h-1zM705 215h5v1h-5zM710 215h1v1h-1zM711 216h1v1h-1zM712 217h2v1h-2zM714 218h1v1h-1zM715 219h1v1h-1zM716 220h2v1h-2zM718 221h2v1h-2zM720 222h1v1h-1zM721 223h1v1h-1zM722 224h2v1h-2zM724 225h1v1h-1zM725 226h1v1h-1zM726 227h1v1h-1zM727 228h2v1h-2zM729 229h1v1h-1zM730 230h1v1h-1zM731 231h1v1h-1zM732 232h1v1h-1zM733 233h1v1h-1zM734 234h1v1h-1zM735 235h1v1h-1zM736 236h1v2h-1zM737 238h1v1h-1zM738 239h1v1h-1zM739 240h1v2h-1zM740 242h1v2h-1zM741 244h1v2h-1zM742 246h1v3h-1zM743 249h1v3h-1zM744 252h1v2h-1zM745 254h1v1h-1zM745 255h1v1h-1zM746 256h1v2h-1zM747 258h1v1h-1zM748 259h1v1h-1zM749 260h1v2h-1zM750 262h1v2h-1zM751 264h1v2h-1zM752 266h1v2h-1zM753 268h1v2h-1zM754 270h1v2h-1zM755 272h1v1h-1z"/>
</g>
<g shape-rendering="crispEdges" stroke="#040204" stroke-width="1" fill="none">
<line x1="40" y1="48.5" x2="760" y2="48.5" stroke-dasharray="3 3"/>
<line x1="40" y1="83.5" x2="760" y2="83.5" stroke-dasharray="3 3"/>
<line x1="40" y1="118.5" x2="760" y2="118.5" stroke-dasharray="3 3"/>
<line x1="40" y1="154.5" x2="760" y2="154.5" stroke-dasharray="3 3"/>
<line x1="40" y1="189.5" x2="760" y2="189.5" stroke-dasharray="3 3"/>
<line x1="40" y1="224.5" x2="760" y2="224.5" stroke-dasharray="3 3"/>
<line x1="40" y1="260.5" x2="760" y2="260.5" stroke-dasharray="3 3"/>
<line x1="40" y1="295.5" x2="760" y2="295.5" stroke-dasharray="3 3"/>
<line x1="40" y1="331.5" x2="760" y2="331.5" stroke-dasharray="3 3"/>
<line x1="40" y1="366.5" x2="760" y2="366.5" stroke-dasharray="3 3"/>
<line x1="40" y1="401.5" x2="760" y2="401.5" stroke-dasharray="3 3"/>
<line x1="40" y1="437.5" x2="760" y2="437.5" stroke-dasharray="3 3"/>
<line x1="130.5" y1="40" x2="130.5" y2="460" stroke-dasharray="3 3"/>
<line x1="220.5" y1="40" x2="220.5" y2="460" stroke-dasharray="3 3"/>
<line x1="310.5" y1="40" x2="310.5" y2="460" stroke-dasharray="3 3"/>
<line x1="400.5" y1="40" x2="400.5" y2="460" stroke-dasharray="3 3"/>
<line x1="490.5" y1="40" x2="490.5" y2="460" stroke-dasharray="3 3"/>
<line x1="580.5" y1="40" x2="580.5" y2="460" stroke-dasharray="3 3"/>
<line x1="670.5" y1="40" x2="670.5" y2="460" stroke-dasharray="3 3"/>
<rect x="40.5" y="40.5" width="720" height="420"/>
<line x1="40.5" y1="461" x2="40.5" y2="463"/>
<line x1="70.5" y1="461" x2="70.5" y2="463"/>
<line x1="100.5" y1="461" x2="100.5" y2="463"/>
<line x1="130.5" y1="461" x2="130.5" y2="463"/>
<line x1="160.5" y1="461" x2="160.5" y2="463"/>
<line x1="190.5" y1="461" x2="190.5" y2="463"/>
<line x1="220.5" y1="461" x2="220.5" y2="463"/>
<line x1="250.5" y1="461" x2="250.5" y2="463"/>
<line x1="280.5" y1="461" x2="280.5" y2="463"/>
<line x1="310.5" y1="461" x2="310.5" y2="463"/>
<line x1="340.5" y1="461" x2="340.5" y2="463"/>
<line x1="370.5" y1="461" x2="370.5" y2="463"/>
<line x1="400.5" y1="461" x2="400.5" y2="463"/>
<line x1="430.5" y1="461" x2="430.5" y2="463"/>
<line x1="460.5" y1="461" x2="460.5" y2="463"/>
<line x1="490.5" y1="461" x2="490.5" y2="463"/>
<line x1="520.5" y1="461" x2="520.5" y2="463"/>
<line x1="550.5" y1="461" x2="550.5" y2="463"/>
<line x1="580.5" y1="461" x2="580.5" y2="463"/>
<line x1="610.5" y1="461" x2="610.5" y2="463"/>
<line x1="640.5" y1="461" x2="640.5" y2="463"/>
<line x1="670.5" y1="461" x2="670.5" y2="463"/>
<line x1="700.5" y1="461" x2="700.5" y2="463"/>
<line x1="730.5" y1="461" x2="730.5" y2="463"/>
<line x1="760.5" y1="461" x2="760.5" y2="463"/>
</g>
<g fill="#040204" stroke="#040204" stroke-width="0.18">
<text x="36.5" y="50" text-anchor="end">°C</text>
<text x="36.5" y="89" text-anchor="end">30,0</text>
<text x="36.5" y="124" text-anchor="end">28,0</text>
<text x="36.5" y="160" text-anchor="end">26,0</text>
<text x="36.5" y="195" text-anchor="end">24,0</text>
<text x="36.5" y="230" text-anchor="end">22,0</text>
<text x="36.5" y="266" text-anchor="end">20,0</text>
<text x="36.5" y="301" text-anchor="end">18,0</text>
<text x="36.5" y="337" text-anchor="end">16,0</text>
<text x="36.5" y="372" text-anchor="end">14,0</text>
<text x="36.5" y="407" text-anchor="end">12,0</text>
<text x="36.5" y="443" text-anchor="end">10,0</text>
<text x="40.5" y="479" text-anchor="middle">00:00</text>
<text x="41.2" y="494" text-anchor="middle" letter-spacing="0.2">11.05.22</text>
<text x="130.5" y="479" text-anchor="middle">03:00</text>
<text x="131.2" y="494" text-anchor="middle" letter-spacing="0.2">11.05.22</text>
<text x="220.5" y="479" text-anchor="middle">06:00</text>
<text x="221.2" y="494" text-anchor="middle" letter-spacing="0.2">11.05.22</text>
<text x="310.5" y="479" text-anchor="middle">09:00</text>
<text x="311.2" y="494" text-anchor="middle" letter-spacing="0.2">11.05.22</text>
<text x="400.5" y="479" text-anchor="middle">12:00</text>
<text x="401.2" y="494" text-anchor="middle" letter-spacing="0.2">11.05.22</text>
<text x="490.5" y="479" text-anchor="middle">15:00</text>
<text x="491.2" y="494" text-anchor="middle" letter-spacing="0.2">11.05.22</text>
<text x="580.5" y="479" text-anchor="middle">18:00</text>
<text x="581.2" y="494" text-anchor="middle" letter-spacing="0.2">11.05.22</text>
<text x="670.5" y="479" text-anchor="middle">21:00</text>
<text x="671.2" y="494" text-anchor="middle" letter-spacing="0.2">11.05.22</text>
<text x="760.5" y="479" text-anchor="middle">00:00</text>
<text x="761.2" y="494" text-anchor="middle" letter-spacing="0.2">12.05.22</text>
</g>
<text x="147.2" y="36" text-anchor="middle" fill="#FC0204">Temperatur</text>
<text x="399.2" y="36" text-anchor="middle" letter-spacing="0.2" fill="#0402FC">Taupunkt</text>
<text x="652" y="36" text-anchor="middle" letter-spacing="-0.3" fill="#04CA04">Windchill</text>
<g id="ttl" fill="#fff">
<text class="t" x="312.2" y="14" textLength="71.3" lengthAdjust="spacingAndGlyphs">Temperatur,</text>
<text class="t" x="386.3" y="14" textLength="57.6" lengthAdjust="spacingAndGlyphs">Taupunkt,</text>
<text class="t" x="446" y="14" textLength="50.5" lengthAdjust="spacingAndGlyphs">Windchill</text>
<text class="t" x="499.3" y="14" textLength="22.8" lengthAdjust="spacingAndGlyphs">[°C]</text>
</g>
</svg>
</body>
</html>
